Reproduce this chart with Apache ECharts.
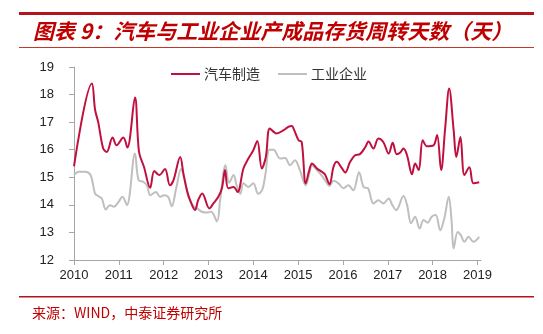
<!DOCTYPE html>
<html>
<head>
<meta charset="utf-8">
<script src="https://cdn.jsdelivr.net/npm/echarts@6/dist/echarts.min.js"></script>
<style>
  html, body { margin: 0; padding: 0; background: #ffffff; }
  #chart { width: 543px; height: 334px; }
</style>
</head>
<body>
<div id="chart"></div>
<script>
// Year ticks along the time axis
const yearTicks = [2010, 2011, 2012, 2013, 2014, 2015, 2016, 2017, 2018, 2019];
const yTicks = [12, 13, 14, 15, 16, 17, 18, 19];

// 汽车制造: time (decimal year) and turnover days
const autoTime = [
  2010.00, 2010.40, 2010.47, 2010.54, 2010.65, 2010.73, 2010.86, 2010.95, 2011.10, 2011.19,
  2011.36, 2011.45, 2011.56, 2011.70, 2011.79, 2011.90, 2012.03, 2012.14, 2012.22, 2012.37,
  2012.44, 2012.52, 2012.59, 2012.70, 2012.77, 2012.86, 2013.02, 2013.11, 2013.22, 2013.30,
  2013.37, 2013.44, 2013.56, 2013.65, 2013.78, 2013.89, 2014.00, 2014.09, 2014.19, 2014.28,
  2014.37, 2014.52, 2014.67, 2014.78, 2014.86, 2014.91, 2015.01, 2015.08, 2015.17, 2015.25,
  2015.31, 2015.42, 2015.53, 2015.60, 2015.70, 2015.79, 2015.86, 2015.98, 2016.05, 2016.16,
  2016.27, 2016.38, 2016.50, 2016.57, 2016.68, 2016.79, 2016.90, 2017.02, 2017.11, 2017.20,
  2017.28, 2017.35, 2017.43, 2017.54, 2017.61, 2017.69, 2017.78, 2017.87, 2018.02, 2018.10,
  2018.19, 2018.28, 2018.37, 2018.47, 2018.53, 2018.62, 2018.71, 2018.82, 2018.91, 2019.04
];
const autoDays = [
  15.40, 18.40, 17.45, 17.00, 16.05, 15.92, 16.44, 16.16, 16.44, 16.08,
  17.89, 15.92, 15.38, 14.62, 15.23, 15.08, 15.30, 14.71, 14.90, 15.74,
  15.14, 14.53, 14.17, 13.81, 14.17, 14.41, 13.87, 14.05, 14.29, 14.60,
  15.26, 14.60, 14.65, 14.47, 15.32, 15.68, 15.98, 16.32, 15.32, 15.74,
  16.77, 16.59, 16.70, 16.83, 16.86, 16.72, 16.34, 16.28, 14.78, 15.26,
  15.50, 15.32, 15.20, 15.10, 14.75, 15.38, 15.56, 15.32, 15.17, 15.56,
  15.80, 15.84, 16.10, 16.30, 16.04, 16.41, 16.28, 15.86, 16.25, 15.84,
  15.90, 16.04, 15.80, 15.11, 15.50, 15.26, 16.34, 16.13, 16.16, 16.53,
  15.26, 16.77, 18.22, 16.70, 15.74, 16.46, 15.08, 15.36, 14.78, 14.82
];

// 工业企业: time (decimal year) and turnover days
const indTime = [
  2010.00, 2010.10, 2010.25, 2010.37, 2010.47, 2010.54, 2010.62, 2010.71, 2010.80, 2010.89,
  2010.99, 2011.08, 2011.18, 2011.36, 2011.44, 2011.55, 2011.63, 2011.70, 2011.83, 2011.92,
  2012.01, 2012.10, 2012.18, 2012.28, 2012.39, 2012.47, 2012.55, 2012.66, 2012.77, 2012.85,
  2012.96, 2013.06, 2013.19, 2013.26, 2013.38, 2013.46, 2013.56, 2013.63, 2013.71, 2013.78,
  2013.89, 2014.00, 2014.11, 2014.20, 2014.27, 2014.36, 2014.45, 2014.60, 2014.71, 2014.82,
  2014.93, 2015.04, 2015.17, 2015.25, 2015.31, 2015.42, 2015.51, 2015.60, 2015.70, 2015.79,
  2015.90, 2016.01, 2016.12, 2016.23, 2016.36, 2016.46, 2016.56, 2016.68, 2016.79, 2016.90,
  2017.02, 2017.10, 2017.19, 2017.35, 2017.43, 2017.52, 2017.61, 2017.71, 2017.80, 2017.89,
  2017.98, 2018.07, 2018.17, 2018.26, 2018.36, 2018.42, 2018.47, 2018.56, 2018.63, 2018.71,
  2018.80, 2018.91, 2019.04
];
const indDays = [
  15.08, 15.20, 15.20, 15.08, 14.41, 14.32, 14.23, 13.83, 13.99, 13.93,
  14.10, 14.29, 13.99, 15.86, 14.90, 14.83, 14.70, 14.35, 14.47, 14.29,
  14.35, 14.29, 13.95, 14.60, 15.30, 14.90, 14.30, 13.95, 13.85, 13.75,
  13.72, 13.75, 13.40, 14.17, 15.44, 14.80, 15.08, 14.70, 14.40, 14.78,
  14.65, 14.78, 14.40, 14.55, 15.10, 16.00, 16.00, 15.68, 15.70, 15.44,
  15.62, 15.26, 14.71, 15.14, 15.44, 15.26, 15.10, 14.90, 14.68, 14.87,
  14.78, 14.60, 14.71, 14.53, 15.18, 14.65, 14.60, 14.05, 14.17, 14.05,
  14.23, 14.00, 13.81, 14.32, 14.00, 13.33, 13.57, 13.14, 13.45, 13.35,
  13.57, 13.63, 13.08, 13.50, 14.29, 13.50, 12.42, 13.02, 12.90, 12.66,
  12.84, 12.66, 12.84
];

const zip = (xs, ys) => xs.map((x, i) => [x, ys[i]]);

const RED = '#C0103F';
const GREY = '#BFBFBF';
const TITLE_RED = '#C00000';
const cjk = '"Noto Sans CJK SC", "Liberation Sans", sans-serif';
const latin = '"Liberation Sans", Arial, sans-serif';

const chart = echarts.init(document.getElementById('chart'), null, { renderer: 'canvas' });

chart.setOption({
  backgroundColor: '#ffffff',
  animation: false,
  grid: { left: 74, right: 62, top: 67, bottom: 74, containLabel: false },
  legend: {
    left: 166,
    top: 62,
    itemWidth: 29,
    itemHeight: 2,
    itemGap: 18,
    icon: 'rect',
    textStyle: { fontFamily: cjk, fontSize: 14, color: '#333333', padding: [0, 0, 0, -1] },
    data: ['汽车制造', '工业企业']
  },
  xAxis: {
    type: 'value',
    min: 2010,
    max: 2019.08,
    splitLine: { show: false },
    axisLine: { show: true, lineStyle: { color: '#A6A6A6', width: 1 } },
    axisTick: { show: true, inside: false, length: 5, lineStyle: { color: '#A6A6A6' }, customValues: yearTicks },
    axisLabel: {
      customValues: yearTicks,
      margin: 9,
      fontFamily: latin,
      fontSize: 13,
      color: '#222222',
      formatter: v => String(v)
    }
  },
  yAxis: {
    type: 'value',
    min: 12,
    max: 19,
    interval: 1,
    splitLine: { show: false },
    axisLine: { show: true, lineStyle: { color: '#A6A6A6', width: 1 } },
    axisTick: { show: true, inside: false, length: 5, lineStyle: { color: '#A6A6A6' } },
    axisLabel: {
      margin: 20,
      fontFamily: latin,
      fontSize: 13,
      color: '#222222',
      customValues: yTicks
    }
  },
  series: [
    {
      name: '汽车制造',
      type: 'line',
      data: zip(autoTime, autoDays),
      showSymbol: false,
      smooth: 0.35,
      z: 3,
      itemStyle: { color: RED },
      lineStyle: { color: RED, width: 2 }
    },
    {
      name: '工业企业',
      type: 'line',
      data: zip(indTime, indDays),
      showSymbol: false,
      smooth: 0.35,
      z: 2,
      itemStyle: { color: GREY },
      lineStyle: { color: GREY, width: 2 }
    }
  ],
  graphic: [
    // header rules
    { type: 'rect', shape: { x: 19, y: 12, width: 515, height: 3 }, style: { fill: '#B4141E' }, silent: true },
    { type: 'rect', shape: { x: 19, y: 47, width: 515, height: 1 }, style: { fill: '#C0392B' }, silent: true },
    {
      type: 'text', left: 33, top: 21,
      style: {
        text: '图表 9：汽车与工业企业产成品存货周转天数（天）',
        fill: TITLE_RED,
        font: 'italic bold 21px ' + cjk
      },
      silent: true
    },
    // footer rule and source note
    { type: 'rect', shape: { x: 19, y: 296, width: 515, height: 1.5 }, style: { fill: '#B4141E' }, silent: true },
    {
      type: 'text', left: 32, top: 306,
      style: {
        text: '来源：WIND，中泰证券研究所',
        fill: TITLE_RED,
        font: '14px ' + cjk
      },
      silent: true
    }
  ]
});
</script>
</body>
</html>
